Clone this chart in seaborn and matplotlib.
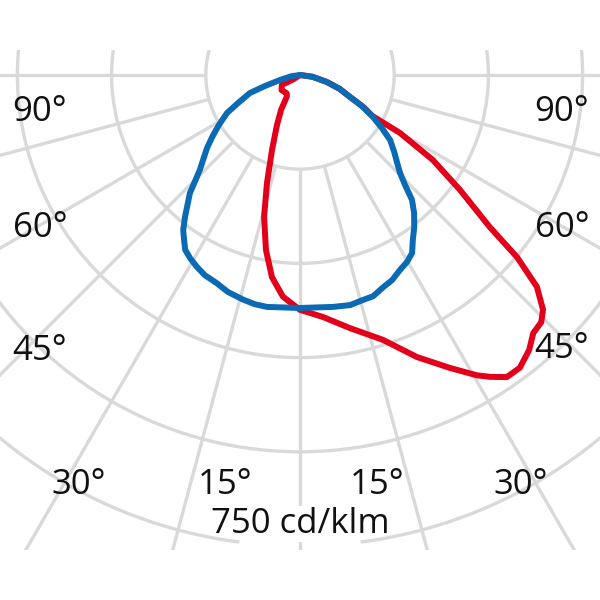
import numpy as np
import pandas as pd
import matplotlib
matplotlib.use("Agg")
import matplotlib.pyplot as plt
import seaborn as sns
from matplotlib.patches import Rectangle

# ---- data (gamma angle in degrees from nadir, intensity in cd/klm) ----
blue_gamma = [-90, -82, -76, -72.6, -70.2, -65.7, -62.5, -58.3, -54.8, -51.9, -48.8,
              -46.5, -43, -39, -37, -35.1, -33.3, -31.0, -28.2, -25.4, -21.8, -18.4,
              -14.2, -11.1, -8.1, 0, 8.1, 12.3, 15.6, 18.3, 21.4, 24.2, 27.1, 29.8,
              32.2, 34.4, 36.9, 39.6, 41.9, 43.7, 45.6, 47.8, 50.7, 54.2, 57.1, 60.1,
              63.4, 66.3, 70.7, 75.5, 82, 90]
blue_cdklm = [0, 14, 33, 58, 85, 108, 131, 152, 171, 188, 205,
              220, 257, 291, 309, 321, 333, 340, 347, 353, 357, 364,
              369, 372, 373, 371, 373, 375, 372, 371, 363, 358, 349, 343,
              335, 318, 303, 285, 267, 242, 223, 209, 194, 177, 155, 134,
              110, 87, 67, 44, 20, 0]

red_gamma = [90, 82, 75.5, 70.7, 66.3, 63.0, 60.5, 59.9, 57.4, 54.3, 51.3, 50.0,
             48.2, 46.0, 44.3, 42.1, 39.8, 36.9, 34.4, 32.2, 30.5, 27.1, 22.5, 17.4,
             11.2, 5.4, 0, -4.4, -7.9, -11.0, -14.2, -17.0, -20.5, -24.7, -28.5,
             -31.5, -36, -50.7, -61.3, -57.3, -90]
red_cdklm = [0, 20, 44, 67, 87, 115, 132, 184, 251, 314, 387, 451,
             506, 538, 550, 554, 570, 583, 583, 568, 555, 524, 486, 442,
             411, 387, 374, 354, 325, 284, 233, 180, 127, 88, 63,
             40, 36, 38, 33, 13, 0]

ring_values = [150, 300, 450, 600, 750]
spoke_angles = [-90, -75, -60, -45, -30, -15, 0, 15, 30, 45, 60, 75, 90]
scale_label = "750 cd/klm"
tick_labels = ["90°", "60°", "45°", "30°", "15°", "15°", "30°", "45°", "60°", "90°"]

# ---- geometry (pixel layout of the reference) ----
K = 0.628            # px per cd/klm
CX, CY = 300, 75     # pole position in pixels
def px2d(px, py):
    return (px - CX) / K, -(py - CY) / K

label_px = [(40, 112), (40, 228), (40, 351), (79, 485), (225, 485),
            (377, 485), (521, 485), (562, 349), (562, 228), (562, 112)]

def to_xy(g, r):
    g = np.radians(np.asarray(g, float))
    r = np.asarray(r, float)
    return r * np.sin(g), -r * np.cos(g)

bx, by = to_xy(blue_gamma, blue_cdklm)
rx, ry = to_xy(red_gamma, red_cdklm)
df_b = pd.DataFrame({"x": bx, "y": by})
df_r = pd.DataFrame({"x": rx, "y": ry})

sns.set_style("white")
plt.rcParams['font.family'] = ['Open Sans', 'DejaVu Sans']

fig = plt.figure(figsize=(6, 6), dpi=100)
ax = fig.add_axes([0, 0, 1, 1])
x0, y1 = px2d(0, 0)
x1, y0 = px2d(600, 600)
ax.set_xlim(x0, x1)
ax.set_ylim(y0, y1)
ax.set_aspect('equal')
ax.axis('off')

cx0, cy_top = px2d(0, 50)
cx1, cy_bot = px2d(600, 550)
clip = Rectangle((cx0, cy_bot), cx1 - cx0, cy_top - cy_bot, transform=ax.transData)

grid_col = '#d9d9d9'
grid_lw = 2.4
# rings
for i, rv in enumerate(ring_values):
    if i == len(ring_values) - 1:
        gap = 7.4
        for seg in (np.linspace(-180, -gap, 400), np.linspace(gap, 180, 400)):
            xs, ys = to_xy(seg, np.full_like(seg, rv))
            l, = ax.plot(xs, ys, color=grid_col, lw=grid_lw, zorder=3, solid_capstyle='butt')
            l.set_clip_path(clip)
    else:
        seg = np.linspace(-180, 180, 800)
        xs, ys = to_xy(seg, np.full_like(seg, rv))
        l, = ax.plot(xs, ys, color=grid_col, lw=grid_lw, zorder=3)
        l.set_clip_path(clip)
# spokes
for a in spoke_angles:
    xs, ys = to_xy([a, a], [ring_values[0], 2000])
    l, = ax.plot(xs, ys, color=grid_col, lw=grid_lw, zorder=1, solid_capstyle='butt')
    l.set_clip_path(clip)

# curves
sns.lineplot(data=df_r, x="x", y="y", sort=False, estimator=None, ax=ax,
             color='#e2001a', lw=4.3, zorder=5)
sns.lineplot(data=df_b, x="x", y="y", sort=False, estimator=None, ax=ax,
             color='#0a6ab4', lw=4.3, zorder=6)
for l in ax.lines[-2:]:
    l.set_solid_joinstyle('round')
    l.set_solid_capstyle('round')

# labels
for t, (px, py) in zip(tick_labels, label_px):
    xd, yd = px2d(px, py)
    ax.text(xd, yd, t, ha='center', va='center', fontsize=25, color='#111111', zorder=7)
xd, yd = px2d(300, 524)
ax.text(xd, yd, scale_label, ha='center', va='center', fontsize=25, color='#111111',
        zorder=2, bbox=dict(facecolor='white', edgecolor='none', pad=1))

fig.savefig("out.png", dpi=100)
